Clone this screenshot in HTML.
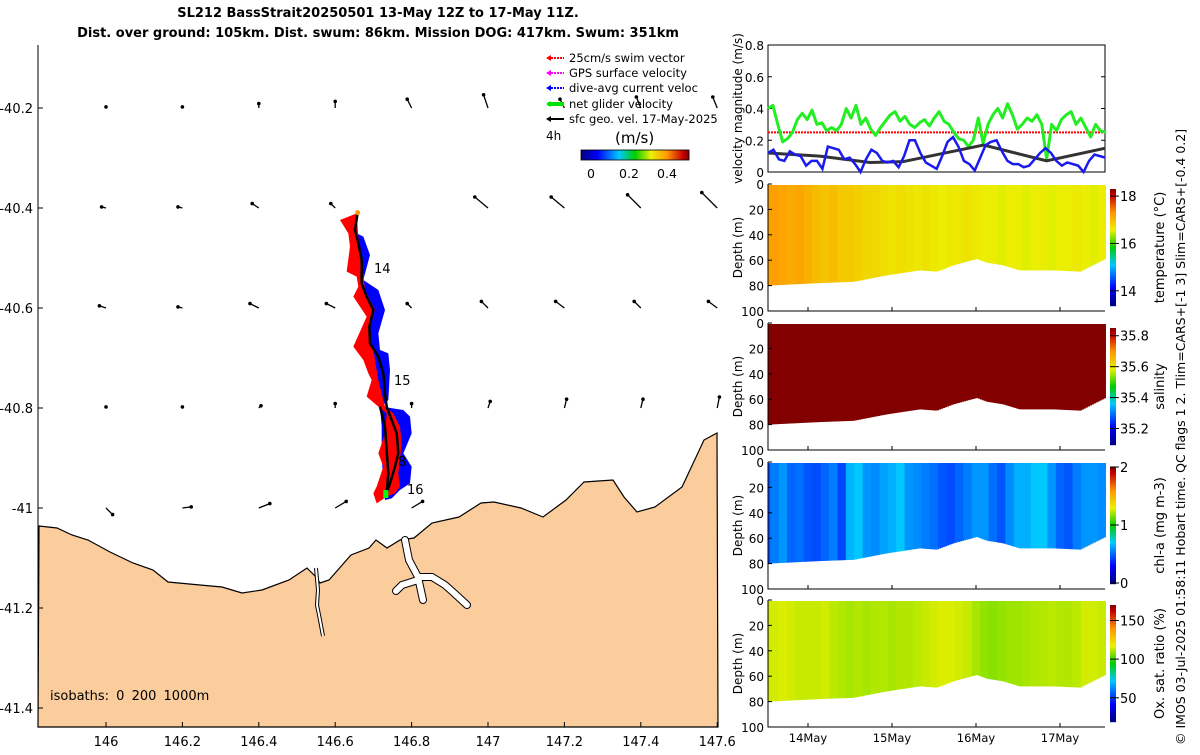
<!DOCTYPE html>
<html><head><meta charset="utf-8"><style>
html,body{margin:0;padding:0;background:#fff;}
svg text{font-family:"DejaVu Sans","Liberation Sans",sans-serif;}
</style></head><body>
<svg id="fig" xmlns="http://www.w3.org/2000/svg" width="1200" height="750" viewBox="0 0 1200 750">
<g font-weight="bold" font-size="13" text-anchor="middle">
<text x="378" y="17">SL212 BassStrait20250501 13-May 12Z to 17-May 11Z.</text>
<text x="378" y="37">Dist. over ground: 105km. Dist. swum: 86km. Mission DOG: 417km. Swum: 351km</text>
</g>
<g id="map"></g>
<g id="right"></g>
<text transform="translate(1185,745) rotate(-90)" font-size="12.5">© IMOS 03-Jul-2025 01:58:11 Hobart time. QC flags 1  2. Tlim=CARS+[-1 3] Slim=CARS+[-0.4 0.2]</text>
</svg>
<script>
// ---------- DATA ----------
const lonTicks=[146,146.2,146.4,146.6,146.8,147,147.2,147.4,147.6];
const latTicks=[-40.2,-40.4,-40.6,-40.8,-41,-41.2,-41.4];
const gridLons=[146,146.2,146.4,146.6,146.8,147,147.2,147.4,147.6];
const gridLats=[-40.2,-40.4,-40.6,-40.8,-41];
const geoU=[
[0,0,0,0,-0.02,-0.02,-0.02,-0.02,-0.02],
[-0.02,-0.02,-0.03,-0.02,0,-0.06,-0.06,-0.06,-0.07],
[-0.03,-0.02,-0.04,-0.04,-0.02,-0.03,-0.04,-0.03,-0.04],
[0,0,0.01,0,0,0.01,0.01,0.01,0.01],
[0.03,0.04,0.05,0.05,0.05,0,0,0,0]];
const geoV=[
[0.005,0.005,0.02,0.03,0.04,0.06,0.04,0.05,0.05],
[0.005,0.005,0.02,0.02,0,0.05,0.05,0.06,0.07],
[0.01,0.005,0.02,0.02,0.02,0.03,0.03,0.03,0.03],
[0.005,0.005,0.01,0.02,0.02,0.03,0.04,0.04,0.05],
[-0.03,0.005,0.02,0.03,0.03,0,0,0,0]];
// velocity panel
const tStart=13.524, tEnd=17.54;
const greenVel=[0.40,0.42,0.30,0.19,0.21,0.25,0.33,0.37,0.33,0.39,0.30,0.31,0.26,0.28,0.26,0.30,0.40,0.34,0.42,0.30,0.34,0.27,0.23,0.28,0.32,0.36,0.38,0.32,0.35,0.30,0.28,0.31,0.33,0.29,0.34,0.38,0.32,0.30,0.25,0.21,0.20,0.16,0.20,0.34,0.18,0.30,0.36,0.40,0.34,0.43,0.36,0.27,0.30,0.34,0.32,0.36,0.30,0.08,0.30,0.26,0.33,0.36,0.38,0.30,0.34,0.28,0.22,0.30,0.26,0.25];
const blueVel=[0.12,0.14,0.08,0.07,0.13,0.11,0.10,0.04,0.07,0.07,0.02,0.16,0.15,0.14,0.08,0.09,0.05,0.00,0.08,0.14,0.12,0.07,0.06,0.07,0.03,0.10,0.20,0.20,0.12,0.06,0.04,0.02,0.10,0.19,0.22,0.16,0.07,0.05,0.01,0.09,0.17,0.19,0.20,0.13,0.07,0.05,0.05,0.03,0.04,0.08,0.12,0.15,0.12,0.07,0.04,0.06,0.05,0.04,0.00,0.07,0.11,0.10,0.09];
const geoT=[13.524,14.14,14.74,15.13,16.09,16.84,17.54];
const geoVel=[0.12,0.10,0.06,0.065,0.17,0.07,0.15];
const swimVel=0.25;
// sections
const bottomT=[13.524,14.14,14.54,14.93,15.33,15.53,15.73,16.01,16.13,16.32,16.52,16.92,17.24,17.54];
const bottomD=[80,78,77,72,68,69,64,59,62,64,68,68,69,59];
const colStart=13.5, colStep=0.1;
const tempVals=[17.2,17.25,17.2,17.15,17.2,17.1,17.0,16.95,17.0,16.9,16.9,16.85,16.8,16.8,16.75,16.7,16.75,16.7,16.65,16.7,16.65,16.6,16.65,16.65,16.7,16.65,16.6,16.6,16.55,16.6,16.6,16.55,16.6,16.6,16.55,16.6,16.6,16.65,16.6,16.55,16.6];
const salVals=[35.85,35.85,35.85,35.85,35.85,35.85,35.85,35.85,35.85,35.85,35.85,35.85,35.85,35.85,35.85,35.85,35.85,35.85,35.85,35.85,35.85,35.85,35.85,35.85,35.85,35.85,35.85,35.85,35.85,35.85,35.85,35.85,35.85,35.85,35.85,35.85,35.85,35.85,35.85,35.85,35.85];
const chlVals=[0.45,0.55,0.6,0.5,0.52,0.47,0.45,0.5,0.55,0.44,0.66,0.7,0.6,0.58,0.62,0.65,0.7,0.6,0.58,0.55,0.52,0.47,0.45,0.5,0.55,0.6,0.6,0.52,0.47,0.58,0.65,0.65,0.7,0.7,0.6,0.5,0.47,0.55,0.6,0.6,0.58];
const oxyVals=[115,115,116,115,114,114,114,115,113,112,111,112,111,112,112,111,112,112,113,114,115,116,116,115,114,111,109,108,109,110,110,111,112,112,113,112,112,113,115,115,114];
const dayTicks=[14,15,16,17];
const dayLabels=["14May","15May","16May","17May"];

// ---------- HELPERS ----------
const NS="http://www.w3.org/2000/svg";
function mk(parent,tag,attrs){const e=document.createElementNS(NS,tag);for(const k in attrs)e.setAttribute(k,attrs[k]);parent.appendChild(e);return e;}
const stops=[[0,[0,0,130]],[0.15,[0,0,255]],[0.35,[0,200,255]],[0.5,[0,205,0]],[0.65,[235,240,0]],[0.8,[255,150,0]],[0.95,[200,0,0]],[1,[130,0,0]]];
function jet(f){f=Math.max(0,Math.min(1,f));
 for(let i=1;i<stops.length;i++){if(f<=stops[i][0]){const a=stops[i-1],b=stops[i];const u=(f-a[0])/(b[0]-a[0]);
  return `rgb(${Math.round(a[1][0]+u*(b[1][0]-a[1][0]))},${Math.round(a[1][1]+u*(b[1][1]-a[1][1]))},${Math.round(a[1][2]+u*(b[1][2]-a[1][2]))})`;}}
 return 'rgb(130,0,0)';}
function interp(xs,ys,x){if(x<=xs[0])return ys[0];for(let i=1;i<xs.length;i++){if(x<=xs[i]){const f=(x-xs[i-1])/(xs[i]-xs[i-1]);return ys[i-1]+f*(ys[i]-ys[i-1]);}}return ys[ys.length-1];}

// ---------- MAP ----------
const map=document.getElementById('map');
const mx=lon=>106+(lon-146)*382;
const my=lat=>108+(-40.2-lat)*500;
const MX0=38,MX1=718,MY0=45,MY1=727;
let e;
e=mk(map,'rect',{x:MX0,y:MY0,width:MX1-MX0,height:MY1-MY0,fill:'#fff'});


const coast=[[39,526],[57,528],[72,535],[88,540],[110,552],[133,563],[153,570],[168,582],[200,585],[222,587],[242,593],[262,590],[289,580],[307,568],[316,577],[320,583],[329,580],[351,555],[369,548],[376,540],[387,548],[400,540],[414,538],[432,523],[459,517],[481,503],[494,502],[521,508],[543,517],[566,500],[584,482],[613,480],[624,497],[637,512],[655,507],[682,487],[704,440],[717,433],[718,727],[38,727]];
e=mk(map,'polygon',{points:coast.map(p=>p.join(',')).join(' '),fill:'#fbcd9d',stroke:'#000','stroke-width':1.2});


const inletL='M316,568 L318,590 L317,605 L320,620 L323,636';
e=mk(map,'path',{d:inletL,fill:'none',stroke:'#000','stroke-width':4});


e=mk(map,'path',{d:inletL,fill:'none',stroke:'#fff','stroke-width':2});


const tamar='M405,540 L409,560 L418,577 L423,600 M418,577 L432,577 L445,585 L454,593 L467,605 M418,580 L402,585 L396,591';
e=mk(map,'path',{d:tamar,fill:'none',stroke:'#000','stroke-width':8,'stroke-linecap':'round'});


e=mk(map,'path',{d:tamar,fill:'none',stroke:'#fff','stroke-width':6,'stroke-linecap':'round'});


for(let j=0;j<gridLats.length;j++)for(let i=0;i<gridLons.length;i++){
 const u=geoU[j][i],v=geoV[j][i];if(u===0&&v===0)continue;
 const x0=mx(gridLons[i]),y0=my(gridLats[j]);const s=220;
 const x1=x0+u*s,y1=y0-v*s;
 const g=mk(map,'g',{});
 
 
 mk(g,'line',{x1:x0,y1:y0,x2:x1,y2:y1,stroke:'#000','stroke-width':1.3});
 mk(g,'circle',{cx:x1,cy:y1,r:1.8,fill:'#000'});
}
const tx=z=>320+z/3, ty=z=>200+z/3;
const conv=a=>a.map(p=>tx(p[0])+','+ty(p[1])).join(' ');
const blueSw=[[115,40],[100,95],[130,110],[150,165],[130,240],[175,270],[195,330],[175,400],[180,450],[205,460],[210,510],[205,600],[185,620],[250,630],[270,650],[275,700],[250,760],[275,800],[270,850],[240,870],[215,895],[195,900],[190,860],[185,760],[185,680],[180,620],[170,560],[150,440],[140,400],[160,330],[125,250],[120,140],[105,100]];
const redSw=[[110,40],[60,60],[85,100],[90,140],[80,215],[110,230],[115,260],[100,290],[120,320],[140,350],[100,440],[130,480],[145,520],[155,540],[140,590],[175,620],[200,640],[195,700],[175,760],[190,800],[170,860],[160,880],[170,910],[200,890],[225,880],[240,860],[235,820],[240,780],[245,730],[240,680],[220,640],[195,620],[175,540],[160,450],[145,400],[165,330],[135,270],[125,180],[115,110]];
e=mk(map,'polygon',{points:conv(blueSw),fill:'#0000ff'});


e=mk(map,'polygon',{points:conv(redSw),fill:'#ff0000'});


const trackA=[[113,38],[105,90],[115,130],[125,180],[125,250],[140,290],[160,330],[148,380],[150,430],[175,470],[190,520],[195,580],[200,620],[215,660],[230,700],[235,760],[225,800],[210,850],[198,885]];
const trackB=[[180,620],[195,680],[200,750],[205,820],[200,880]];
e=mk(map,'polyline',{points:conv(trackA),fill:'none',stroke:'#000','stroke-width':2.5});


e=mk(map,'polyline',{points:conv(trackB),fill:'none',stroke:'#000','stroke-width':2.5});


e=mk(map,'circle',{cx:tx(113),cy:ty(38),r:2.5,fill:'#f90'});


e=mk(map,'rect',{x:tx(190),y:ty(870),width:5,height:8,fill:'#0f0'});


[["14",374,273],["15",394,385],["16",407,494],["8",398,466]].forEach(d=>{
 const t=mk(map,'text',{x:d[1],y:d[2],'font-size':13});t.textContent=d[0];
 
 
});
e=mk(map,'text',{x:50,y:700,'font-size':13,'word-spacing':'3'});e.textContent='isobaths: 0  200  1000m';


e=mk(map,'path',{d:`M${MX0},${MY0} L${MX0},${MY1} L${MX1},${MY1}`,fill:'none',stroke:'#000','stroke-width':1});


lonTicks.forEach(l=>{const x=mx(l);mk(map,'line',{x1:x,y1:MY1,x2:x,y2:MY1-5,stroke:'#000'});
 const t=mk(map,'text',{x:x,y:746,'font-size':13,'text-anchor':'middle'});t.textContent=String(l);
 
 });
latTicks.forEach(l=>{const y=my(l);mk(map,'line',{x1:MX0,y1:y,x2:MX0+5,y2:y,stroke:'#000'});
 const t=mk(map,'text',{x:33,y:y+5,'font-size':13,'text-anchor':'end'});t.textContent=String(l);
 
 });
const leg=mk(map,'g',{});


[["25cm/s swim vector","#ff0000",62],["GPS surface velocity","#ff00ff",77],["dive-avg current veloc","#0000ff",92],["net glider velocity","#00dd00",108],["sfc geo. vel. 17-May-2025","#000",123]].forEach((d,i)=>{
 const g=mk(leg,'g',{});
 
 
 mk(g,'line',{x1:548,y1:d[2]-4,x2:564,y2:d[2]-4,stroke:d[1],'stroke-width':i==3?4:2,'stroke-dasharray':i<3?'2,1':''});
 mk(g,'polygon',{points:`${546},${d[2]-4} ${551},${d[2]-7} ${551},${d[2]-1}`,fill:d[1]});
 const t=mk(g,'text',{x:569,y:d[2],'font-size':11.5});t.textContent=d[0];
});
e=mk(map,'text',{x:546,y:140,'font-size':12});e.textContent='4h';


e=mk(map,'text',{x:615,y:143,'font-size':15});e.textContent='(m/s)';


const mcb=mk(map,'g',{});


for(let k=0;k<108;k++)mk(mcb,'rect',{x:581+k,y:150,width:1.2,height:10,fill:jet(k/107)});
mk(mcb,'rect',{x:581,y:150,width:108,height:10,fill:'none',stroke:'#000','stroke-width':0.8});
[[0,591],[0.2,629],[0.4,667]].forEach(d=>{const t=mk(mcb,'text',{x:d[1],y:178,'font-size':12.5,'text-anchor':'middle'});t.textContent=String(d[0]);});

// ---------- RIGHT PANELS ----------
const R=document.getElementById('right');
const X0=768,X1=1105;
const tX=t=>808+(t-14)*84;
const VY0=45,VY1=172;
const vY=v=>VY1-(v/0.8)*(VY1-VY0);
const vp=mk(R,'g',{});


mk(vp,'rect',{x:X0,y:VY0,width:X1-X0,height:VY1-VY0,fill:'#fff',stroke:'#000'});
[0,0.2,0.4,0.6,0.8].forEach(v=>{const y=vY(v);mk(vp,'line',{x1:X0,y1:y,x2:X0+4,y2:y,stroke:'#000'});mk(vp,'line',{x1:X1,y1:y,x2:X1-4,y2:y,stroke:'#000'});
 const t=mk(vp,'text',{x:X0-4,y:y+5,'font-size':12,'text-anchor':'end'});t.textContent=String(v);
 
 });
e=mk(vp,'line',{x1:X0,y1:vY(swimVel),x2:X1,y2:vY(swimVel),stroke:'#ff0000','stroke-width':2,'stroke-dasharray':'2,1'});


const gStep=(tEnd-tStart)/(greenVel.length-1), bStep=(tEnd-tStart)/(blueVel.length-1);
e=mk(vp,'polyline',{points:greenVel.map((v,i)=>tX(tStart+i*gStep)+','+vY(v)).join(' '),fill:'none',stroke:'#22ee22','stroke-width':3,'stroke-linejoin':'round'});


e=mk(vp,'polyline',{points:geoVel.map((v,i)=>tX(geoT[i])+','+vY(v)).join(' '),fill:'none',stroke:'#333','stroke-width':3});


e=mk(vp,'polyline',{points:blueVel.map((v,i)=>tX(tStart+i*bStep)+','+vY(v)).join(' '),fill:'none',stroke:'#1a1aee','stroke-width':2.5});


e=mk(vp,'text',{transform:`translate(742,${(VY0+VY1)/2}) rotate(-90)`,'font-size':12,'text-anchor':'middle'});e.textContent='velocity magnitude (m/s)';



const panels=[
 {name:'temperature',y0:184,vals:tempVals,lo:13.4,hi:18.3,ticks:[14,16,18],label:'temperature (°C)'},
 {name:'salinity',y0:323,vals:salVals,lo:35.1,hi:35.85,ticks:[35.2,35.4,35.6,35.8],label:'salinity'},
 {name:'chl-a',y0:462,vals:chlVals,lo:0,hi:2,ticks:[0,1,2],label:'chl-a (mg m-3)'},
 {name:'oxygen',y0:600,vals:oxyVals,lo:20,hi:170,ticks:[50,100,150],label:'Ox. sat. ratio (%)'}];
panels.forEach((p,pi)=>{
 const H=127, dY=d=>p.y0+d/100*H;
 const g=mk(R,'g',{});
 
 
 mk(g,'rect',{x:X0,y:p.y0,width:X1-X0,height:H,fill:'#fff'});
 p.vals.forEach((v,i)=>{
  const t0=Math.max(colStart+i*colStep-colStep/2,tStart), t1=Math.min(colStart+i*colStep+colStep/2,tEnd);
  if(t1<=t0)return;
  const nsub=4;
  for(let s=0;s<nsub;s++){
   const a=t0+(t1-t0)*s/nsub,b=t0+(t1-t0)*(s+1)/nsub;
   const bd=interp(bottomT,bottomD,(a+b)/2);
   const c=mk(g,'rect',{x:tX(a),y:p.y0+1,width:tX(b)-tX(a)+0.6,height:dY(bd)-p.y0-1,fill:jet((v-p.lo)/(p.hi-p.lo))});
   
   
  }
 });
 mk(g,'path',{d:`M${X0},${p.y0} L${X0},${p.y0+H} L${X1},${p.y0+H}`,fill:'none',stroke:'#000'});
 [0,20,40,60,80,100].forEach(d=>{const y=dY(d);mk(g,'line',{x1:X0,y1:y,x2:X0+4,y2:y,stroke:'#000'});
  const t=mk(g,'text',{x:X0-4,y:y+5,'font-size':12,'text-anchor':'end'});t.textContent=String(d);
  
  });
 dayTicks.forEach(d=>mk(g,'line',{x1:tX(d),y1:p.y0+H,x2:tX(d),y2:p.y0+H-4,stroke:'#000'}));
 const yt=mk(g,'text',{transform:`translate(742,${p.y0+H/2}) rotate(-90)`,'font-size':12,'text-anchor':'middle'});yt.textContent='Depth (m)';
 
 
 const cb=mk(g,'g',{});
 
 
 const cy0=p.y0+5,cy1=p.y0+H-6;
 for(let k=0;k<=cy1-cy0;k++)mk(cb,'rect',{x:1110,y:cy0+k,width:6,height:1.2,fill:jet(1-k/(cy1-cy0))});
 p.ticks.forEach(tv=>{const y=cy1-(tv-p.lo)/(p.hi-p.lo)*(cy1-cy0);mk(cb,'line',{x1:1110,y1:y,x2:1119,y2:y,stroke:'#000'});
  const t=mk(cb,'text',{x:1120,y:y+5,'font-size':13});t.textContent=String(tv);});
 const lt=mk(g,'text',{transform:`translate(1164,${p.y0+H/2}) rotate(-90)`,'font-size':13,'text-anchor':'middle'});lt.textContent=p.label;
 
 
});
dayTicks.forEach((d,i)=>{const t=mk(R,'text',{x:tX(d),y:742,'font-size':11.5,'text-anchor':'middle'});t.textContent=dayLabels[i];
 
 });
</script>
</body></html>
